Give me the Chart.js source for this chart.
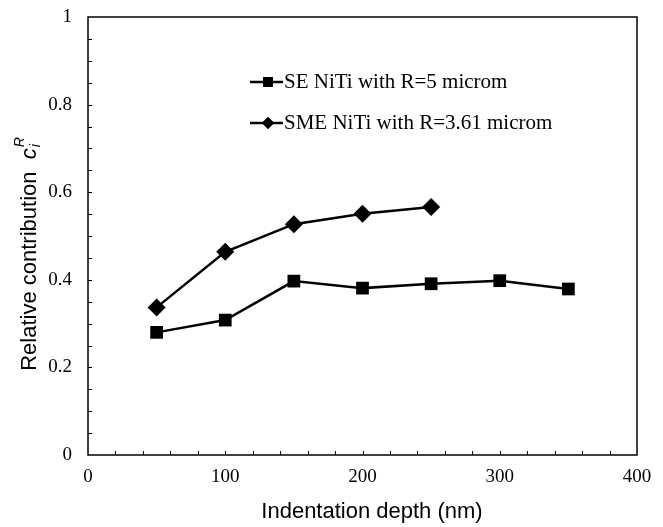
<!DOCTYPE html>
<html>
<head>
<meta charset="utf-8">
<script src="https://cdn.jsdelivr.net/npm/chart.js@4.4.0/dist/chart.umd.min.js"></script>
<style>
  html, body { margin: 0; padding: 0; background: #fff; }
  #wrap { width: 663px; height: 527px; }
</style>
</head>
<body>
<div id="wrap"><canvas id="myLineChart"></canvas></div>
<script>
const depths = [50, 100, 150, 200, 250, 300, 350];
const seValues = [0.28, 0.308, 0.397, 0.381, 0.391, 0.398, 0.379];
const smeDepths = [50, 100, 150, 200, 250];
const smeValues = [0.337, 0.464, 0.527, 0.551, 0.566];
const seLabel = 'SE NiTi with R=5 microm';
const smeLabel = 'SME NiTi with R=3.61 microm';
const xTicks = [0, 100, 200, 300, 400];
const yTicks = [0, 0.2, 0.4, 0.6, 0.8, 1];

const serif = '"Liberation Serif", "Times New Roman", serif';
const sans = '"Liberation Sans", Arial, sans-serif';

// frame, inward ticks, legend and axis titles
const decorations = {
  id: 'decorations',
  afterDraw(chart) {
    const ctx = chart.ctx;
    const a = chart.chartArea;
    const xs = chart.scales.x;
    const ys = chart.scales.y;
    ctx.save();
    ctx.strokeStyle = '#000';
    ctx.lineWidth = 1.5;
    ctx.strokeRect(a.left, a.top, a.right - a.left, a.bottom - a.top);

    ctx.lineWidth = 1;
    ctx.beginPath();
    for (let v = 20; v < 400; v += 20) {
      const px = Math.round(xs.getPixelForValue(v)) + 0.5;
      ctx.moveTo(px, a.bottom);
      ctx.lineTo(px, a.bottom - 4);
    }
    for (let k = 1; k < 20; k++) {
      const py = Math.round(ys.getPixelForValue(k * 0.05)) + 0.5;
      ctx.moveTo(a.left, py);
      ctx.lineTo(a.left + 4, py);
    }
    ctx.stroke();

    // legend
    const items = [
      { text: seLabel, style: 'rect', y: 82, r: 7 },
      { text: smeLabel, style: 'rectRot', y: 123, r: 6 }
    ];
    items.forEach((it) => {
      ctx.lineWidth = 2.5;
      ctx.beginPath();
      ctx.moveTo(250, it.y);
      ctx.lineTo(283, it.y);
      ctx.stroke();
      ctx.fillStyle = '#000';
      Chart.helpers.drawPoint(ctx, { pointStyle: it.style, radius: it.r, borderWidth: 0 }, 268, it.y);
      ctx.fill();
      ctx.font = '21px ' + serif;
      ctx.textBaseline = 'middle';
      ctx.textAlign = 'left';
      ctx.fillText(it.text, 284, it.y);
    });

    // x axis title
    ctx.font = '22px ' + sans;
    ctx.textAlign = 'center';
    ctx.textBaseline = 'middle';
    ctx.fillText('Indentation depth (nm)', 372, 512);

    // y axis title with c_i^R
    ctx.translate(30, 254);
    ctx.rotate(-Math.PI / 2);
    ctx.textAlign = 'left';
    ctx.font = '22px ' + sans;
    const main = 'Relative contribution  ';
    const wMain = ctx.measureText(main).width;
    ctx.font = 'italic 22px ' + sans;
    const wc = ctx.measureText('c').width;
    ctx.font = 'italic 14px ' + sans;
    const wR = ctx.measureText('R').width;
    let x0 = -(wMain + wc + wR + 1) / 2;
    ctx.font = '22px ' + sans;
    ctx.fillText(main, x0, 0);
    x0 += wMain;
    ctx.font = 'italic 22px ' + sans;
    ctx.fillText('c', x0, 0);
    x0 += wc + 1;
    ctx.font = 'italic 14px ' + sans;
    ctx.fillText('i', x0, 6);
    ctx.fillText('R', x0, -10);
    ctx.restore();
  }
};

const ctx = document.getElementById('myLineChart').getContext('2d');
const myLineChart = new Chart(ctx, {
  type: 'line',
  data: {
    datasets: [
      {
        label: seLabel,
        data: depths.map((d, i) => ({ x: d, y: seValues[i] })),
        borderColor: '#000',
        backgroundColor: '#000',
        borderWidth: 2.5,
        pointStyle: 'rect',
        pointRadius: 9,
        pointBorderWidth: 0,
        tension: 0
      },
      {
        label: smeLabel,
        data: smeDepths.map((d, i) => ({ x: d, y: smeValues[i] })),
        borderColor: '#000',
        backgroundColor: '#000',
        borderWidth: 2.5,
        pointStyle: 'rectRot',
        pointRadius: 9,
        pointBorderWidth: 0,
        tension: 0
      }
    ]
  },
  options: {
    responsive: true,
    maintainAspectRatio: false,
    animation: false,
    layout: { padding: { left: 0, right: 26, top: 17, bottom: 0 } },
    plugins: {
      legend: { display: false },
      tooltip: { enabled: false }
    },
    scales: {
      x: {
        type: 'linear',
        min: 0,
        max: 400,
        afterBuildTicks: (s) => { s.ticks = xTicks.map((v) => ({ value: v })); },
        afterFit: (s) => { s.height = 72; s.paddingLeft = 0; s.paddingRight = 0; },
        grid: { display: false, drawTicks: false },
        border: { display: false },
        ticks: { color: '#000', font: { family: serif, size: 19 }, padding: 11 }
      },
      y: {
        min: 0,
        max: 1,
        afterBuildTicks: (s) => { s.ticks = yTicks.map((v) => ({ value: v })); },
        afterFit: (s) => { s.width = 88; s.paddingTop = 0; s.paddingBottom = 0; },
        grid: { display: false, drawTicks: false },
        border: { display: false },
        ticks: {
          color: '#000',
          font: { family: serif, size: 19 },
          padding: 16,
          callback: (v) => (v === 0 || v === 1 ? String(v) : v.toFixed(1))
        }
      }
    }
  },
  plugins: [decorations]
});
</script>
</body>
</html>
